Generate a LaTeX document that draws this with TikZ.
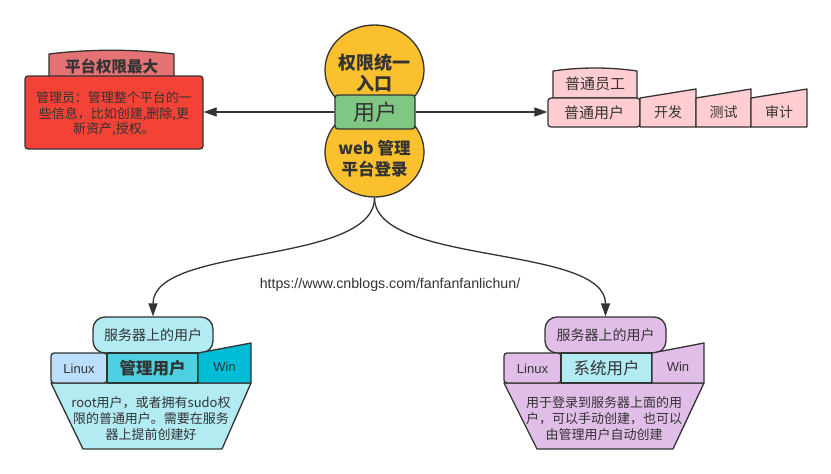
\documentclass[tikz,border=0pt]{standalone}
\usepackage{fontspec}
\setmainfont{Noto Sans CJK SC}
\newfontfamily\lat{Liberation Sans}
\usetikzlibrary{arrows.meta,shapes.geometric}
\definecolor{ink}{HTML}{333333}
\definecolor{redbox}{HTML}{F44336}
\definecolor{redtab}{HTML}{E57373}
\definecolor{yel}{HTML}{FBC02D}
\definecolor{grn}{HTML}{81C784}
\definecolor{pinkc}{HTML}{FFCDD2}
\definecolor{cyl}{HTML}{B2EBF2}
\definecolor{blu}{HTML}{BBDEFB}
\definecolor{cym}{HTML}{4DD0E1}
\definecolor{cyd}{HTML}{00BCD4}
\definecolor{purc}{HTML}{E1BEE7}
\begin{document}
\begin{tikzpicture}[x=1pt,y=-1pt,line join=round,
  every node/.style={text=ink},
  shp/.style={draw=ink,line width=1.3pt},
  arr/.style={draw=ink,line width=1.3pt,-{Triangle[length=13pt,width=9pt]}},
  rbox/.style={shp,rectangle,rounded corners=3pt,inner sep=0pt},
  txt/.style={inner sep=0pt,align=center},
  f13/.style={font=\fontsize{13}{16}\selectfont},
  f14/.style={font=\fontsize{14}{17}\selectfont},
  f15/.style={font=\fontsize{15}{18}\selectfont},
  lt/.style={font=\lat\fontsize{13}{16}\selectfont}]
\fill[white] (0,0) rectangle (831,474);
\useasboundingbox (0,0) rectangle (831,474);

% ---------- top left ----------
\path[shp,fill=redtab] (49,78) -- (49,54) .. controls (90,49) and (133,49) .. (174,54) -- (174,78) -- cycle;
\node[txt,font=\bfseries\fontsize{15.5}{18}\selectfont] (tabL) at (111.5,66) {平台权限最大};
\node[rbox,fill=redbox,minimum width=178pt,minimum height=73pt] (admin) at (114,112.5) {};
\node[txt,font=\fontsize{13}{15.5}\selectfont] (adminT) at (114,114) {管理员：管理整个平台的一\\些信息，比如创建,删除,更\\新资产,授权。};

% ---------- centre ----------
\node[shp,ellipse,fill=yel,minimum width=99pt,minimum height=90pt,inner sep=0pt] (ellT) at (374.5,70) {};
\node[shp,ellipse,fill=yel,minimum width=99pt,minimum height=90pt,inner sep=0pt] (ellB) at (374.5,152) {};
\node[txt,font=\bfseries\fontsize{18}{21}\selectfont] (ellTt) at (374.5,72.5) {权限统一\\入口};
\node[txt,font=\bfseries\fontsize{16.5}{21}\selectfont] (ellBt) at (374.5,159) {web 管理\\平台登录};
\node[rbox,fill=grn,minimum width=80pt,minimum height=34pt,font=\fontsize{22}{24}\selectfont] (user) at (375,112) {用户};

% ---------- top right ----------
\path[shp,fill=pinkc] (553,98) -- (553,71) .. controls (580,67) and (610,67) .. (637,71) -- (637,98) -- cycle;
\node[txt,f15] (tabR) at (595,84) {普通员工};
\node[rbox,fill=pinkc,minimum width=92pt,minimum height=29pt,f15] (normal) at (594,112.5) {普通用户};
\path[shp,fill=pinkc] (640,98) -- (696,89) -- (696,127) -- (640,127) -- cycle;
\node[txt,f14] (dev) at (668,112) {开发};
\path[shp,fill=pinkc] (696,98) -- (751,89) -- (751,127) -- (696,127) -- cycle;
\node[txt,f14] (test) at (723.5,112) {测试};
\path[shp,fill=pinkc] (751,98) -- (807,89) -- (807,127) -- (751,127) -- cycle;
\node[txt,f14] (audit) at (779,112) {审计};

% ---------- horizontal arrows ----------
\draw[arr] (user.west) -- (user.west -| admin.east);
\draw[arr] (user.east) -- (user.east -| normal.west);

% ---------- bottom left ----------
\node[shp,rectangle,rounded corners=12pt,fill=cyl,minimum width=120pt,minimum height=36pt,inner sep=0pt,f14] (pillL) at (153,335) {服务器上的用户};
\path[shp,fill=cyl] (51,383) -- (251,383) -- (222,449) -- (83,449) -- cycle;
\node[txt,f13] (descL) at (151,419) {root用户，或者拥有sudo权\\限的普通用户。需要在服务\\器上提前创建好};
\node[rbox,fill=blu,minimum width=56pt,minimum height=30pt] (linuxL) at (79,368) {};
\node[txt,lt] at (79,369) {Linux};
\node[shp,rectangle,fill=cym,minimum width=91pt,minimum height=30pt,inner sep=0pt,font=\bfseries\fontsize{16.5}{19}\selectfont] (mgr) at (152.5,368) {管理用户};
\path[shp,fill=cyd] (198,353) -- (251,343) -- (251,383) -- (198,383) -- cycle;
\node[txt,lt] (winL) at (224.5,367) {Win};

% ---------- bottom right ----------
\node[shp,rectangle,rounded corners=12pt,fill=purc,minimum width=121pt,minimum height=36pt,inner sep=0pt,f14] (pillR) at (605.5,335) {服务器上的用户};
\path[shp,fill=purc] (504,383) -- (704,383) -- (673,449) -- (537,449) -- cycle;
\node[txt,f13] (descR) at (604,419) {用于登录到服务器上面的用\\户，可以手动创建，也可以\\由管理用户自动创建};
\node[rbox,fill=purc,minimum width=57pt,minimum height=30pt] (linuxR) at (532.5,368) {};
\node[txt,lt] at (532.5,369) {Linux};
\node[shp,rectangle,fill=cyl,minimum width=91pt,minimum height=30pt,inner sep=0pt,font=\fontsize{16.5}{19}\selectfont] (sys) at (606.5,368) {系统用户};
\path[shp,fill=purc] (652,353) -- (704,343) -- (704,383) -- (652,383) -- cycle;
\node[txt,lt] (winR) at (678,367) {Win};

% ---------- curved arrows ----------
\draw[arr] (ellB.south) .. controls +(0,68) and +(0,-72) .. (pillL.north);
\draw[arr] (ellB.south) .. controls +(0,68) and +(0,-72) .. (pillR.north);

\node[txt,font=\lat\fontsize{14.2}{17}\selectfont] (url) at (390,285) {https://www.cnblogs.com/fanfanfanlichun/};
\end{tikzpicture}
\end{document}
